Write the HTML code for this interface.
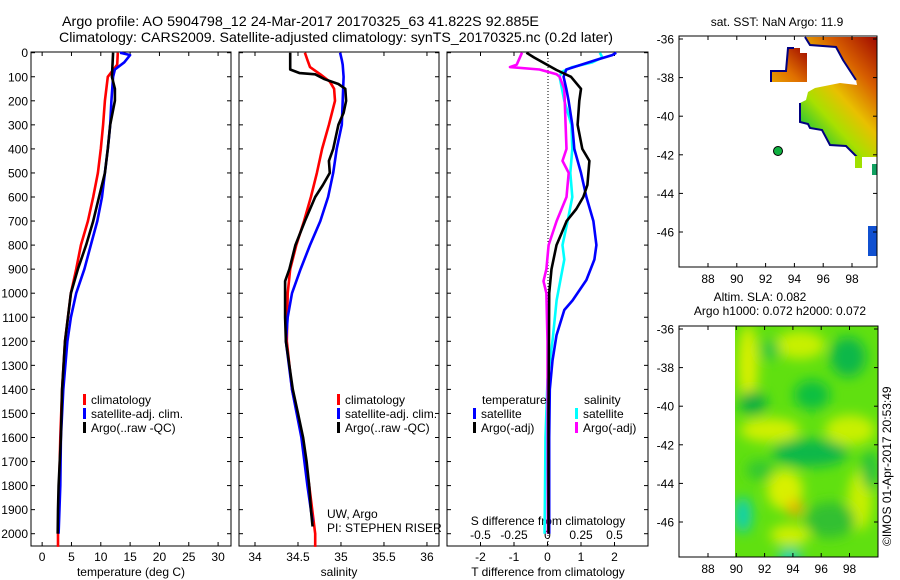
<!DOCTYPE html>
<html><head><meta charset="utf-8">
<style>
body{margin:0;background:#fff;}
svg{display:block;font-family:"Liberation Sans",sans-serif;}
text{fill:#000;}
</style></head>
<body>
<svg id="c" width="900" height="580" viewBox="0 0 900 580" xmlns="http://www.w3.org/2000/svg">
<defs>
<filter id="blur" x="-50%" y="-50%" width="200%" height="200%"><feGaussianBlur stdDeviation="6"/></filter>
<clipPath id="slaclip"><rect x="735" y="326" width="143" height="231"/></clipPath>
<linearGradient id="sstg" x1="1" y1="0" x2="0.3" y2="1">
<stop offset="0" stop-color="#a00a00"/><stop offset="0.3" stop-color="#d86000"/><stop offset="0.55" stop-color="#e8c000"/><stop offset="0.75" stop-color="#a8e000"/><stop offset="1" stop-color="#10c040"/></linearGradient>
<linearGradient id="sstg2" x1="1" y1="0" x2="0" y2="1">
<stop offset="0" stop-color="#a00a00"/><stop offset="0.6" stop-color="#e07000"/><stop offset="1" stop-color="#e8a000"/></linearGradient>
</defs>
<text x="62" y="26" font-size="14" textLength="477" lengthAdjust="spacingAndGlyphs">Argo profile: AO 5904798_12 24-Mar-2017 20170325_63 41.822S 92.885E</text>
<text x="59" y="42" font-size="14" textLength="554" lengthAdjust="spacingAndGlyphs">Climatology: CARS2009. Satellite-adjusted climatology: synTS_20170325.nc (0.2d later)</text>
<g id="g"></g>
</svg>
<script>
// ---- data ----
var yTicks=[0,100,200,300,400,500,600,700,800,900,1000,1100,1200,1300,1400,1500,1600,1700,1800,1900,2000];
var tTicks=[0,5,10,15,20,25,30];
var sTicks=[34,34.5,35,35.5,36];
var dTTicks=[-2,-1,0,1,2];
var dSTicks=[-0.5,-0.25,0,0.25,0.5];
var dSTickLabels=["-0.5","-0.25","0","0.25","0.5"];
// temperature profiles
var tClimDepth=[0,50,100,200,300,400,500,600,700,800,900,1000,1200,1400,1600,1800,2000,2055];
var tClimVal=[12.9,12.8,11.2,10.7,10.4,10.0,9.5,8.7,7.8,6.6,5.8,4.9,3.9,3.4,3.1,2.9,2.7,2.7];
var tSatDepth=[0,10,40,70,100,200,300,400,500,600,700,800,900,1000,1100,1200,1400,1600,1800,2000];
var tSatVal=[13.3,15.0,14.0,12.4,12.1,11.8,11.6,11.2,10.7,10.2,9.4,8.3,7.2,5.8,4.9,4.3,3.6,3.2,3.1,2.8];
var tArgoDepth=[0,100,150,200,300,400,500,600,700,800,900,1000,1200,1400,1600,1800,1900,2000];
var tArgoVal=[12.1,11.9,12.4,12.4,11.6,11.2,10.7,9.7,8.7,7.5,6.1,4.9,3.9,3.4,3.2,2.8,2.7,2.65];
// salinity profiles
var sClimDepth=[0,30,60,90,120,150,200,300,400,500,600,700,800,900,1000,1200,1400,1600,1800,2000,2055];
var sClimVal=[34.58,34.61,34.64,34.76,34.87,34.92,34.93,34.86,34.78,34.72,34.65,34.57,34.48,34.41,34.38,34.37,34.43,34.55,34.63,34.70,34.70];
var sSatDepth=[0,30,50,100,200,300,400,500,600,700,800,900,1000,1100,1200,1400,1600,1800,1950];
var sSatVal=[34.99,35.01,35.02,35.03,35.02,35.01,34.95,34.91,34.85,34.76,34.64,34.53,34.43,34.38,34.36,34.43,34.54,34.61,34.67];
var sArgoDepth=[0,70,85,90,110,130,150,200,250,300,400,450,500,550,600,700,800,900,950,1000,1100,1200,1400,1500,1600,1700,1800,1900,1970];
var sArgoVal=[34.41,34.41,34.52,34.70,34.81,34.97,35.05,35.06,35.03,34.97,34.91,34.86,34.87,34.79,34.70,34.58,34.47,34.40,34.35,34.35,34.35,34.36,34.44,34.50,34.56,34.60,34.63,34.65,34.67];
// differences from climatology
var dTSatDepth=[0,10,30,70,100,150,200,300,400,500,600,700,800,860,945,1030,1070,1175,1280,1400,1600,2000];
var dTSatVal=[2.05,1.93,1.46,0.56,0.48,0.56,0.63,0.74,0.80,1.0,1.16,1.37,1.46,1.40,1.16,0.75,0.5,0.27,0.15,0.07,0.05,0.05];
var dTArgoDepth=[0,20,72,100,150,200,300,400,450,550,600,650,700,750,800,900,1000,1500,2000];
var dTArgoVal=[-0.63,-0.4,0.27,0.7,1.0,0.95,0.9,1.04,1.25,1.19,1.07,0.86,0.57,0.42,0.27,0.12,0.05,0.03,0.03];
var dSSatDepth=[0,20,40,60,80,100,200,300,400,500,600,700,800,860,1030,1195,1360,1600,2000];
var dSSatVal=[0.39,0.41,0.335,0.185,0.105,0.09,0.125,0.178,0.185,0.17,0.185,0.15,0.112,0.125,0.068,0.038,0,-0.015,-0.022];
var dSArgoDepth=[0,50,60,70,90,100,150,300,400,450,500,600,700,800,900,950,1000,1200,2000];
var dSArgoVal=[-0.19,-0.23,-0.28,-0.06,0.068,0.09,0.125,0.135,0.142,0.112,0.158,0.142,0.068,0.008,-0.008,-0.03,-0.008,0,0.003];

var NS="http://www.w3.org/2000/svg";
var G=document.getElementById('g');
function el(tag,attrs,parent){var e=document.createElementNS(NS,tag);for(var k in attrs)e.setAttribute(k,attrs[k]);(parent||G).appendChild(e);return e;}
function txt(s,x,y,size,anchor,parent){var t=el('text',{x:x,y:y,'font-size':size,'text-anchor':anchor||'start'},parent);t.textContent=s;return t;}

var TOP=52,BOT=546;
function yD(d){return 52.7+d*0.2405;}
var panels=[
 {x0:31,x1:231,min:-1.9,max:32.2,name:'temperature-panel'},
 {x0:239,x1:439,min:33.814,max:36.14,name:'salinity-panel'},
 {x0:447,x1:648,min:-3,max:3,name:'difference-panel'}];
function px(p,v){return p.x0+(v-p.min)/(p.max-p.min)*(p.x1-p.x0);}
function sx(p,s){return px(p,s*4);}

panels.forEach(function(p,i){
 var g=el('g',{});
 
 
 p.g=g;
 var r=el('rect',{x:p.x0,y:TOP,width:p.x1-p.x0,height:BOT-TOP,fill:'none',stroke:'#000','stroke-width':1},g);
 
 
 yTicks.forEach(function(d){
  var y=yD(d);
  el('line',{x1:p.x0,x2:p.x0+4,y1:y,y2:y,stroke:'#000'},g);
  el('line',{x1:p.x1,x2:p.x1-4,y1:y,y2:y,stroke:'#000'},g);
  if(i===0){var t=txt(String(d),28,y+4.5,12,'end',g);
   
   }
 });
});
function xt(p,vals,labels,xfn){
 vals.forEach(function(v,j){
  var x=xfn(v);
  el('line',{x1:x,x2:x,y1:TOP,y2:TOP+4,stroke:'#000'},p.g);
  el('line',{x1:x,x2:x,y1:BOT,y2:BOT-4,stroke:'#000'},p.g);
  var t=txt(labels?labels[j]:String(v),x,561,12,'middle',p.g);
  
  
 });
}
xt(panels[0],tTicks,null,function(v){return px(panels[0],v);});
xt(panels[1],sTicks,null,function(v){return px(panels[1],v);});
xt(panels[2],dTTicks,null,function(v){return px(panels[2],v);});
dSTicks.forEach(function(v,j){
 var t=txt(dSTickLabels[j],sx(panels[2],v),539,12,'middle',panels[2].g);
 
 
});
var a;
a=txt('S difference from climatology',548,525,12,'middle',panels[2].g);
a=txt('temperature (deg C)',131,576,12,'middle');
a=txt('salinity',339,576,12,'middle');
a=txt('T difference from climatology',548,576,12,'middle');
var z=el('line',{x1:548,x2:548,y1:TOP,y2:BOT,stroke:'#000','stroke-dasharray':'1,2'},panels[2].g);



function line(p,depths,vals,color,name,fn){
 var pts=depths.map(function(d,k){return fn(vals[k]).toFixed(1)+','+yD(d).toFixed(1);}).join(' ');
 var l=el('polyline',{points:pts,fill:'none',stroke:color,'stroke-width':2.6,'stroke-linejoin':'round'},p.g);
 
 
}
var P0=panels[0],P1=panels[1],P2=panels[2];
line(P0,tClimDepth,tClimVal,'#ff0000','temperature-climatology-line',function(v){return px(P0,v);});
line(P0,tSatDepth,tSatVal,'#0000ff','temperature-satellite-line',function(v){return px(P0,v);});
line(P0,tArgoDepth,tArgoVal,'#000000','temperature-argo-line',function(v){return px(P0,v);});
line(P1,sClimDepth,sClimVal,'#ff0000','salinity-climatology-line',function(v){return px(P1,v);});
line(P1,sSatDepth,sSatVal,'#0000ff','salinity-satellite-line',function(v){return px(P1,v);});
line(P1,sArgoDepth,sArgoVal,'#000000','salinity-argo-line',function(v){return px(P1,v);});
line(P2,dSSatDepth,dSSatVal,'#00ffff','s-diff-satellite-line',function(v){return sx(P2,v);});
line(P2,dSArgoDepth,dSArgoVal,'#ff00ff','s-diff-argo-line',function(v){return sx(P2,v);});
line(P2,dTSatDepth,dTSatVal,'#0000ff','t-diff-satellite-line',function(v){return px(P2,v);});
line(P2,dTArgoDepth,dTArgoVal,'#000000','t-diff-argo-line',function(v){return px(P2,v);});

function legend(p,x,y,color,label,name){
 var g=el('g',{},p.g);
 
 
 el('rect',{x:x,y:y-10,width:3,height:11,fill:color},g);
 txt(label,x+8,y,12,'start',g);
}
legend(P0,83,404,'#ff0000','climatology','legend-climatology');
legend(P0,83,418,'#0000ff','satellite-adj. clim.','legend-satellite');
legend(P0,83,432,'#000000','Argo(..raw -QC)','legend-argo');
legend(P1,337,404,'#ff0000','climatology','legend-climatology-sal');
legend(P1,337,418,'#0000ff','satellite-adj. clim.','legend-satellite-sal');
legend(P1,337,432,'#000000','Argo(..raw -QC)','legend-argo-sal');
a=txt('temperature',482,404,12,'start',P2.g);
a=txt('salinity',584,404,12,'start',P2.g);
legend(P2,473,418,'#0000ff','satellite','legend-t-satellite');
legend(P2,473,432,'#000000','Argo(-adj)','legend-t-argo');
legend(P2,575,418,'#00ffff','satellite','legend-s-satellite');
legend(P2,575,432,'#ff00ff','Argo(-adj)','legend-s-argo');
a=txt('UW, Argo',327,518,12,'start',P1.g);
a=txt('PI: STEPHEN RISER',327,532,12,'start',P1.g);

// ---- maps ----
var latTicks=[-36,-38,-40,-42,-44,-46];
var lonTicks=[88,90,92,94,96,98];
function mapAxes(m){
 var g=el('g',{});
 
 
 m.g=g;
 return g;
}
function mapFrame(m){
 el('rect',{x:m.x0,y:m.y0,width:m.x1-m.x0,height:m.y1-m.y0,fill:'none',stroke:'#000'},m.g);
 latTicks.forEach(function(l){var y=m.ly(l);
  el('line',{x1:m.x0,x2:m.x0+4,y1:y,y2:y,stroke:'#000'},m.g);
  el('line',{x1:m.x1,x2:m.x1-4,y1:y,y2:y,stroke:'#000'},m.g);
  var t=txt(String(l),674,y+4.5,12,'end',m.g);});
 lonTicks.forEach(function(l){var x=m.lx(l);
  el('line',{x1:x,x2:x,y1:m.y0,y2:m.y0+4,stroke:'#000'},m.g);
  el('line',{x1:x,x2:x,y1:m.y1,y2:m.y1-4,stroke:'#000'},m.g);
  var t=txt(String(l),x,m.y1+16,12,'middle',m.g);});
}
var M1={x0:679,x1:877,y0:36,y1:267,name:'sst-map',lx:function(l){return 708+(l-88)*14.4;},ly:function(l){return 39+(-36-l)*19.3;}};
var M2={x0:679,x1:878,y0:326,y1:557,name:'sla-map',lx:function(l){return 708+(l-88)*14.15;},ly:function(l){return 329+(-36-l)*19.3;}};
mapAxes(M1);
a=txt('sat. SST: NaN Argo: 11.9',777,26,12,'middle',M1.g);
var s1=el('polygon',{points:'805,37 877,37 877,157 857,157 846,146 830,145 822,130 810,128 808,124 800,122 800,103 806,100 808,92 815,88 840,83 857,85 856,80 843,60 836,47 810,45',fill:'url(#sstg)'},M1.g);

el('polyline',{points:'805,37 810,45 836,47 843,60 856,80',fill:'none',stroke:'#000080','stroke-width':2},M1.g);
el('polyline',{points:'800,103 800,122 808,124 810,128 822,130 830,145 846,146 857,157',fill:'none',stroke:'#000080','stroke-width':2},M1.g);
var s2=el('polygon',{points:'788,48 800,48 800,53 807,53 807,82 771,82 771,71 786,71',fill:'url(#sstg2)'},M1.g);

el('polyline',{points:'771,82 771,71 786,71 788,48 794,48',fill:'none',stroke:'#000080','stroke-width':2},M1.g);
el('rect',{x:855,y:156,width:7,height:12,fill:'#a0e000'},M1.g);
el('rect',{x:872,y:164,width:5,height:11,fill:'#10a060'},M1.g);
var b=el('rect',{x:868,y:226,width:9,height:30,fill:'#1050d0'},M1.g);

var dot=el('circle',{cx:778,cy:151,r:4.5,fill:'#10b040',stroke:'#000','stroke-width':1},M1.g);

mapFrame(M1);

mapAxes(M2);
a=txt('Altim. SLA: 0.082',760,301,12,'middle',M2.g);
a=txt('Argo h1000: 0.072 h2000: 0.072',780,315,12,'middle',M2.g);
var cg=el('g',{'clip-path':'url(#slaclip)'},M2.g);

el('rect',{x:735,y:326,width:143,height:231,fill:'#60e010'},cg);
var fg=el('g',{filter:'url(#blur)'},cg);
[[748,365,10,40,'#d8f000'],[800,345,25,14,'#c8f000'],[770,430,30,12,'#d0f000'],[850,430,25,15,'#c8f000'],[785,490,18,20,'#d8f000'],[860,500,12,30,'#c8f000'],[790,535,20,10,'#d0f000'],
 [753,403,14,12,'#10b040'],[812,395,18,15,'#10c040'],[848,357,18,20,'#10b848'],[810,453,38,14,'#10b848'],[760,470,14,10,'#30c830'],[830,520,25,18,'#30c030'],[870,470,8,20,'#20c040'],[770,350,10,10,'#30c840'],
 [743,515,9,18,'#10d0b0'],[790,557,12,8,'#10d0c0'],[795,508,8,8,'#f0b000']].forEach(function(e){
 el('ellipse',{cx:e[0],cy:e[1],rx:e[2],ry:e[3],fill:e[4]},fg);});
mapFrame(M2);
var cr=el('text',{x:891,y:546,'font-size':12,transform:'rotate(-90 891 546)'});
cr.textContent='©IMOS 01-Apr-2017 20:53:49';


</script>
</body></html>
